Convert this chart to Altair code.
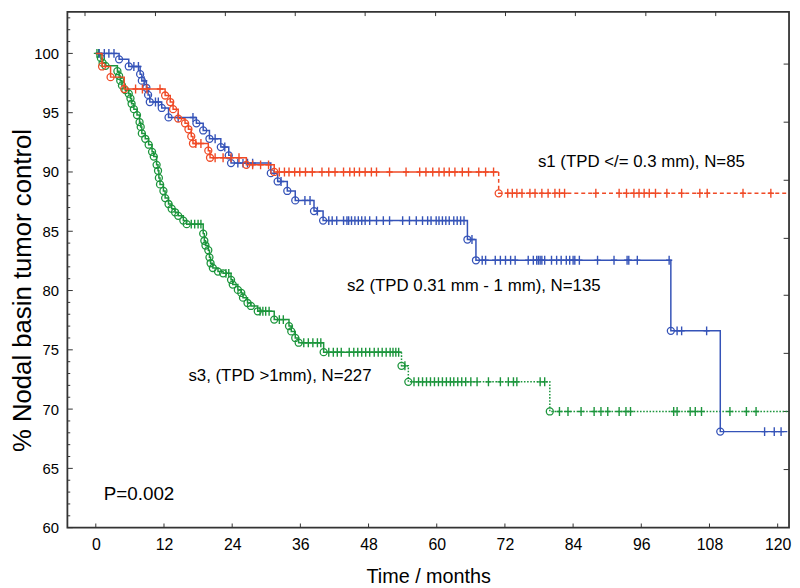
import altair as alt
import pandas as pd

# ---------------- data ----------------
X_TICKS = [0, 12, 24, 36, 48, 60, 72, 84, 96, 108, 120]
Y_TICKS = [60, 65, 70, 75, 80, 85, 90, 95, 100]
Y_MINOR = [61, 62, 63, 64, 66, 67, 68, 69, 71, 72, 73, 74, 76, 77, 78, 79,
           81, 82, 83, 84, 86, 87, 88, 89, 91, 92, 93, 94, 96, 97, 98, 99,
           101, 102, 103]
TOP_TICKS = [-1.9, 10.5, 22.8, 35.1, 47.4, 59.8, 72.1, 84.4, 96.8, 109.1]
RIGHT_TICKS = [64.9, 69.8, 74.7, 79.6, 84.4, 89.3, 94.2, 99.1]

# s1 (red)
S1_EVENT_T = [1.1, 2.6, 5.0, 12.2, 13.1, 13.6, 14.5, 15.7, 16.3, 16.8, 17.1,
              19.8, 20.1, 26.5, 31.4, 70.9]
S1_EVENT_V = [98.9, 98.0, 97.0, 96.45, 95.9, 95.3, 94.5, 94.1, 93.6, 93.0, 92.4,
              91.8, 91.2, 90.6, 90.0, 88.2]
S1_CENSOR_T = [7.0, 8.2, 9.0, 11.3, 17.6, 18.5, 21.0, 22.4, 23.8, 25.2, 27.6,
               29.0, 30.4, 32.3, 33.2, 34.0, 35.0, 35.9, 36.9, 38.1, 39.8, 41.0,
               42.1, 43.6, 44.7, 45.5, 46.4, 47.4, 48.5, 49.4, 51.7, 54.6, 57.0,
               58.1, 59.3, 60.4, 61.3, 62.2, 63.2, 64.5, 65.6, 67.4, 68.6, 70.0,
               72.5, 73.3, 74.1, 75.0, 76.4, 77.3, 78.5, 79.6, 80.8, 81.6, 82.5,
               88.0, 92.1, 93.4, 94.7, 95.6, 96.5, 97.4, 98.5, 100.5, 103.1,
               106.3, 107.6, 113.9, 118.8]
S1_END = 122.0

# s2 (blue)
S2_EVENT_T = [4.1, 5.8, 7.8, 8.1, 8.9, 9.2, 9.5, 11.6, 12.8, 17.7, 18.9, 20.0,
              22.0, 23.4, 23.8, 30.8, 32.0, 33.7, 35.1, 38.4, 40.0, 65.4, 66.9,
              101.2, 109.9]
S2_EVENT_V = [99.5, 98.9, 98.25, 97.7, 97.1, 96.5, 95.9, 95.4, 94.6, 94.1, 93.5,
              92.8, 92.1, 91.4, 90.75, 89.9, 89.2, 88.4, 87.6, 86.7, 85.9, 84.3,
              82.55, 76.6, 68.1]
S2_CENSOR_T = [0.6, 1.5, 2.3, 3.2, 6.7, 7.5, 8.5, 10.5, 11.0, 14.5, 17.1, 21.0,
               22.7, 25.0, 25.9, 26.7, 27.6, 32.6, 36.8, 37.7, 39.0,
               41.0, 41.6, 42.4, 43.6, 44.2, 44.5, 45.0, 45.6, 46.2, 46.8, 47.4,
               48.2, 49.4, 50.6, 51.7, 54.0, 55.2, 56.4, 57.5, 58.4, 59.0, 59.9,
               60.4, 61.0, 61.6, 62.2, 63.0, 63.6, 64.2, 64.8, 66.2,
               68.0, 68.6, 70.3, 71.2, 72.1, 73.0, 73.8, 76.1, 77.0, 77.6, 77.9,
               78.2, 78.5, 79.0, 80.2, 81.1, 81.9, 82.8, 83.4, 84.0, 84.3, 85.1,
               88.3, 91.2, 93.5, 93.8, 95.3, 100.9,
               102.3, 103.1, 107.5, 117.7, 119.4, 120.6]
S2_END = 121.7

# s3 (green)
S3_EVENT_T = [0.9, 1.2, 1.7, 3.8, 4.1, 4.3, 4.6, 5.2, 5.8, 6.1, 6.3, 6.7, 7.25,
              7.7, 7.9, 8.1, 8.7, 9.3, 9.9, 10.2, 10.7, 10.95, 11.1, 11.3, 11.9,
              12.2, 12.8, 13.35, 13.95, 14.5, 15.4, 16.0,
              18.9, 19.1, 19.3, 19.8, 20.0, 20.2, 20.6, 21.5, 22.4,
              23.8, 24.1, 25.0, 25.6, 25.9, 26.7, 27.3, 28.5, 31.4,
              34.0, 34.4, 35.1, 35.7, 40.1, 53.8, 55.0, 79.9]
S3_EVENT_V = [99.6, 99.2, 98.95, 98.5, 98.1, 97.7, 97.3, 96.9, 96.6, 96.2, 95.75,
              95.3, 94.8, 94.2, 93.8, 93.25, 92.8, 92.3, 91.7, 91.3, 90.6, 90.1,
              89.5, 88.95, 88.4, 87.8, 87.3, 86.9, 86.6, 86.3, 85.9, 85.6,
              84.8, 84.2, 83.8, 83.4, 82.8, 82.3, 81.9, 81.6, 81.45,
              80.9, 80.5, 80.05, 79.8, 79.4, 78.95, 78.7, 78.25, 77.55,
              77.0, 76.55, 76.0, 75.6, 74.8, 73.65, 72.3, 69.8]
S3_CENSOR_T = [0.2, 0.5, 16.8, 17.4, 18.0, 18.5, 22.9, 23.4, 28.9, 29.4, 29.9,
               30.5, 32.3, 33.0, 36.6, 37.4, 38.2, 39.0, 39.6,
               41.0, 41.8, 42.5, 43.2, 44.6, 45.4, 46.1, 46.8, 47.5, 48.2, 49.0,
               49.7, 50.4, 51.1, 51.8, 52.3, 52.8, 53.3, 54.4,
               56.0, 56.8, 57.5, 58.2, 58.9, 59.6, 60.3, 61.0, 61.7, 62.4, 63.0,
               63.7, 64.4, 65.1, 66.0, 67.1, 69.1, 71.2, 72.6, 73.5, 74.1, 78.2,
               79.0, 81.6, 83.1, 85.4, 87.7, 88.9, 90.1, 92.1, 93.3, 94.1, 101.7,
               102.3, 104.6, 105.5, 106.6, 111.6, 114.5, 116.2]
S3_END = 122.0

NOTE_TEXT = ["s1 (TPD </= 0.3 mm), N=85", "s2 (TPD 0.31 mm - 1 mm), N=135",
             "s3, (TPD >1mm), N=227"]
NOTE_X = [77.8, 44.2, 16.3]
NOTE_Y = [90.8, 80.35, 72.8]
P_TEXT = ["P=0.002"]
P_X = [1.4]
P_Y = [62.8]

# ---------------- styling ----------------
FONT = "Liberation Sans, Arial, Helvetica, sans-serif"
RED, BLUE, GREEN = "#F04A26", "#3553B8", "#1C953C"
XD = [-5, 122]
YD = [60, 103.5]
xs = alt.Scale(domain=XD, nice=False, zero=False)
ys = alt.Scale(domain=YD, nice=False, zero=False)


def level_at(t, ev_t, ev_v):
    v = 100.0
    for et, evv in zip(ev_t, ev_v):
        if et <= t:
            v = evv
    return v


def series_layers(ev_t, ev_v, cen_t, t_end, color, split, dash):
    pts = [(0.0, 100.0)] + list(zip(ev_t, ev_v)) + [(t_end, ev_v[-1])]
    if split is None:
        parts = [(pts, None)]
    else:
        k = ev_t.index(split)
        a = pts[:k + 1] + [(split, pts[k][1])]
        b = [(split, pts[k][1])] + pts[k + 1:]
        parts = [(a, None), (b, dash)]
    layers = []
    for p, d in parts:
        df = pd.DataFrame({"t": [q[0] for q in p], "v": [q[1] for q in p],
                           "i": list(range(len(p)))})
        kw = dict(interpolate="step-after", color=color, strokeWidth=1.5)
        if d is not None:
            kw["strokeDash"] = d
        layers.append(alt.Chart(df).mark_line(**kw).encode(
            x=alt.X("t:Q", scale=xs), y=alt.Y("v:Q", scale=ys),
            order=alt.Order("i:Q")))
    ev = pd.DataFrame({"t": ev_t, "v": ev_v})
    layers.append(alt.Chart(ev).mark_point(shape="circle", filled=False, size=50,
                                           color=color, strokeWidth=1.3,
                                           opacity=1).encode(
        x=alt.X("t:Q", scale=xs), y=alt.Y("v:Q", scale=ys)))
    cen = pd.DataFrame({"t": cen_t, "v": [level_at(t, ev_t, ev_v) for t in cen_t]})
    layers.append(alt.Chart(cen).mark_point(shape="M0,-1L0,1M-0.7,0L0.7,0",
                                            filled=False, size=81, color=color,
                                            strokeWidth=1.4, opacity=1).encode(
        x=alt.X("t:Q", scale=xs), y=alt.Y("v:Q", scale=ys)))
    return layers


# axes (labels only) carried by an invisible base layer
base = alt.Chart(pd.DataFrame({"t": [0.0], "v": [60.0]})).mark_point(opacity=0).encode(
    x=alt.X("t:Q", scale=xs, title="Time / months",
            axis=alt.Axis(values=X_TICKS, labelFontSize=16, labelPadding=9,
                          titleFontSize=20, titleY=55, titleBaseline="alphabetic")),
    y=alt.Y("v:Q", scale=ys, title="% Nodal basin tumor control",
            axis=alt.Axis(values=Y_TICKS, labelFontSize=15, labelPadding=9,
                          titleFontSize=26, titleX=-37, titleY=281,
                          titleBaseline="alphabetic")),
)

TICK_COLOR = "#333333"
bt = pd.DataFrame({"t": X_TICKS, "a": [60.0] * len(X_TICKS), "b": [60.35] * len(X_TICKS)})
bottom_ticks = alt.Chart(bt).mark_rule(color=TICK_COLOR, strokeWidth=1).encode(
    x=alt.X("t:Q", scale=xs), y=alt.Y("a:Q", scale=ys), y2="b:Q")
tt = pd.DataFrame({"t": TOP_TICKS, "a": [YD[1]] * len(TOP_TICKS), "b": [YD[1] - 0.35] * len(TOP_TICKS)})
top_ticks = alt.Chart(tt).mark_rule(color=TICK_COLOR, strokeWidth=1).encode(
    x=alt.X("t:Q", scale=xs), y=alt.Y("a:Q", scale=ys), y2="b:Q")
lt = pd.DataFrame({"v": Y_TICKS, "a": [XD[0]] * len(Y_TICKS), "b": [XD[0] + 0.95] * len(Y_TICKS)})
left_ticks = alt.Chart(lt).mark_rule(color=TICK_COLOR, strokeWidth=1).encode(
    y=alt.Y("v:Q", scale=ys), x=alt.X("a:Q", scale=xs), x2="b:Q")
lm = pd.DataFrame({"v": Y_MINOR, "a": [XD[0]] * len(Y_MINOR), "b": [XD[0] + 0.5] * len(Y_MINOR)})
left_minor = alt.Chart(lm).mark_rule(color=TICK_COLOR, strokeWidth=1).encode(
    y=alt.Y("v:Q", scale=ys), x=alt.X("a:Q", scale=xs), x2="b:Q")
rt = pd.DataFrame({"v": RIGHT_TICKS, "a": [XD[1]] * len(RIGHT_TICKS), "b": [XD[1] - 0.95] * len(RIGHT_TICKS)})
right_ticks = alt.Chart(rt).mark_rule(color=TICK_COLOR, strokeWidth=1).encode(
    y=alt.Y("v:Q", scale=ys), x=alt.X("a:Q", scale=xs), x2="b:Q")

notes = alt.Chart(pd.DataFrame({"t": NOTE_X, "v": NOTE_Y, "s": NOTE_TEXT})).mark_text(
    align="left", baseline="middle", fontSize=17, font=FONT, color="black").encode(
    x=alt.X("t:Q", scale=xs), y=alt.Y("v:Q", scale=ys), text="s:N")
pnote = alt.Chart(pd.DataFrame({"t": P_X, "v": P_Y, "s": P_TEXT})).mark_text(
    align="left", baseline="middle", fontSize=19, font=FONT, color="black").encode(
    x=alt.X("t:Q", scale=xs), y=alt.Y("v:Q", scale=ys), text="s:N")

layers = [base, bottom_ticks, top_ticks, left_ticks, left_minor, right_ticks]
layers += series_layers(S3_EVENT_T, S3_EVENT_V, S3_CENSOR_T, S3_END, GREEN, 53.8, [1.6, 1.6])
layers += series_layers(S2_EVENT_T, S2_EVENT_V, S2_CENSOR_T, S2_END, BLUE, None, None)
layers += series_layers(S1_EVENT_T, S1_EVENT_V, S1_CENSOR_T, S1_END, RED, 70.9, [4, 3])
layers += [notes, pnote]

chart = alt.layer(*layers).properties(
    width=729, height=521,
    autosize=alt.AutoSizeParams(type="none"),
    padding={"left": 60, "top": 1, "right": 3, "bottom": 58},
).configure_view(stroke="#333333", strokeWidth=1.8).configure_axis(
    grid=False, domain=False, ticks=False, labelColor="black", titleColor="black",
    labelFont=FONT, titleFont=FONT, titleFontWeight="normal")

chart.save("out.html", embed_options={"renderer": "svg", "actions": False})
